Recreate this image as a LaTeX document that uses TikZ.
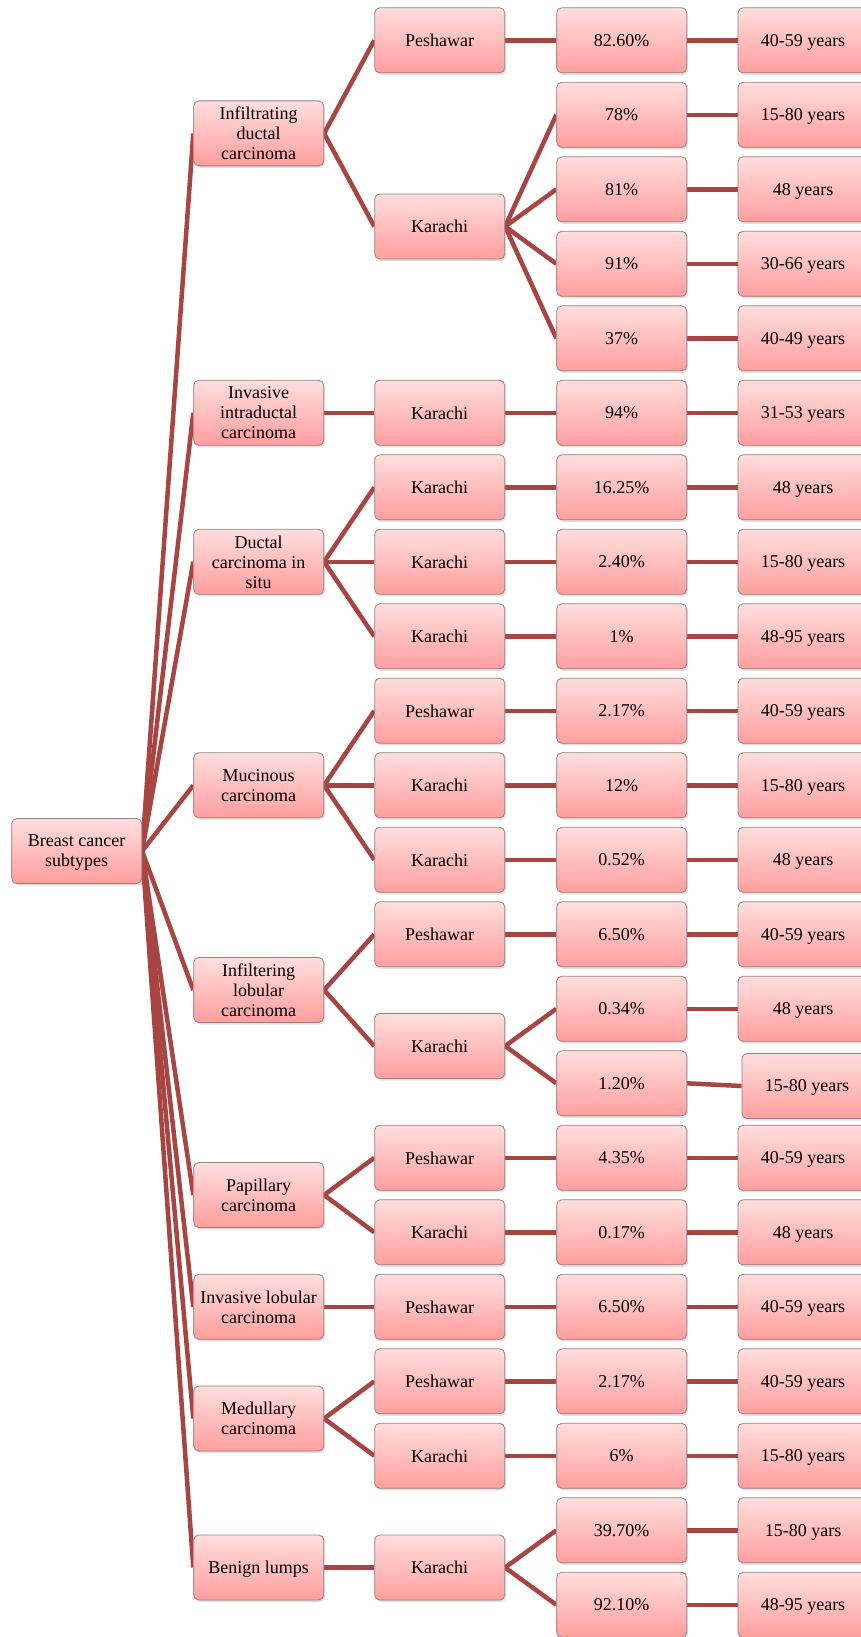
\documentclass[tikz,border=0pt]{standalone}
\usepackage{fontspec}
\setmainfont{Liberation Serif}
\usetikzlibrary{shadows}
\pgfdeclarelayer{background}
\pgfsetlayers{background,main}
\definecolor{linkred}{RGB}{168,68,66}
\definecolor{boxtop}{RGB}{255,222,222}
\definecolor{boxbot}{RGB}{255,158,158}
\definecolor{boxedge}{RGB}{150,128,128}
\tikzset{
  bx/.style={draw=boxedge, line width=0.8pt, rounded corners=5pt,
    top color=boxtop, bottom color=boxbot,
    minimum width=130pt, minimum height=65pt, inner sep=0pt, align=center,
    text depth=0pt,
    font=\fontsize{18}{20}\selectfont,
    drop shadow={opacity=0.25, shadow xshift=1.5pt, shadow yshift=-2pt}},
  lk/.style={draw=linkred, line width=4.5pt}
}
\begin{document}
\begin{tikzpicture}[x=1pt,y=-1pt]
\useasboundingbox (0,0) rectangle (861,1637);
% root
\node[bx] (root) at (76.7,851) {Breast cancer\\subtypes};
% level 1
\node[bx] (idc) at (258.7,133.4) {Infiltrating\\ductal\\carcinoma};
\node[bx] (iic) at (258.7,412.8) {Invasive\\intraductal\\carcinoma};
\node[bx] (dcis) at (258.7,561.8) {Ductal\\carcinoma in\\situ};
\node[bx] (muc) at (258.7,785.3) {Mucinous\\carcinoma};
\node[bx] (ilc) at (258.7,990) {Infiltering\\lobular\\carcinoma};
\node[bx] (pap) at (258.7,1195) {Papillary\\carcinoma};
\node[bx] (invl) at (258.7,1306.8) {Invasive lobular\\carcinoma};
\node[bx] (med) at (258.7,1418.5) {Medullary\\carcinoma};
\node[bx] (ben) at (258.7,1567.5) {Benign lumps};
% level 2 (locations)
\node[bx] (c0) at (439.7,40.3) {Peshawar};
\node[bx] (c1) at (439.7,226.5) {Karachi};
\node[bx] (c5) at (439.7,412.8) {Karachi};
\node[bx] (c6) at (439.7,487.3) {Karachi};
\node[bx] (c7) at (439.7,561.8) {Karachi};
\node[bx] (c8) at (439.7,636.3) {Karachi};
\node[bx] (c9) at (439.7,710.8) {Peshawar};
\node[bx] (c10) at (439.7,785.3) {Karachi};
\node[bx] (c11) at (439.7,859.8) {Karachi};
\node[bx] (c12) at (439.7,934.3) {Peshawar};
\node[bx] (c13) at (439.7,1046) {Karachi};
\node[bx] (c15) at (439.7,1157.8) {Peshawar};
\node[bx] (c16) at (439.7,1232.3) {Karachi};
\node[bx] (c17) at (439.7,1306.8) {Peshawar};
\node[bx] (c18) at (439.7,1381.3) {Peshawar};
\node[bx] (c19) at (439.7,1455.8) {Karachi};
\node[bx] (c20) at (439.7,1567.5) {Karachi};
% level 3 (percentages)
\node[bx] (p0) at (621.7,40.3) {82.60\%};
\node[bx] (p1) at (621.7,114.8) {78\%};
\node[bx] (p2) at (621.7,189.3) {81\%};
\node[bx] (p3) at (621.7,263.8) {91\%};
\node[bx] (p4) at (621.7,338.3) {37\%};
\node[bx] (p5) at (621.7,412.8) {94\%};
\node[bx] (p6) at (621.7,487.3) {16.25\%};
\node[bx] (p7) at (621.7,561.8) {2.40\%};
\node[bx] (p8) at (621.7,636.3) {1\%};
\node[bx] (p9) at (621.7,710.8) {2.17\%};
\node[bx] (p10) at (621.7,785.3) {12\%};
\node[bx] (p11) at (621.7,859.8) {0.52\%};
\node[bx] (p12) at (621.7,934.3) {6.50\%};
\node[bx] (p13) at (621.7,1008.8) {0.34\%};
\node[bx] (p14) at (621.7,1083.3) {1.20\%};
\node[bx] (p15) at (621.7,1157.8) {4.35\%};
\node[bx] (p16) at (621.7,1232.3) {0.17\%};
\node[bx] (p17) at (621.7,1306.8) {6.50\%};
\node[bx] (p18) at (621.7,1381.3) {2.17\%};
\node[bx] (p19) at (621.7,1455.8) {6\%};
\node[bx] (p20) at (621.7,1530.3) {39.70\%};
\node[bx] (p21) at (621.7,1604.8) {92.10\%};
% level 4 (ages)
\node[bx] (a0) at (803,40.3) {40-59 years};
\node[bx] (a1) at (803,114.8) {15-80 years};
\node[bx] (a2) at (803,189.3) {48 years};
\node[bx] (a3) at (803,263.8) {30-66 years};
\node[bx] (a4) at (803,338.3) {40-49 years};
\node[bx] (a5) at (803,412.8) {31-53 years};
\node[bx] (a6) at (803,487.3) {48 years};
\node[bx] (a7) at (803,561.8) {15-80 years};
\node[bx] (a8) at (803,636.3) {48-95 years};
\node[bx] (a9) at (803,710.8) {40-59 years};
\node[bx] (a10) at (803,785.3) {15-80 years};
\node[bx] (a11) at (803,859.8) {48 years};
\node[bx] (a12) at (803,934.3) {40-59 years};
\node[bx] (a13) at (803,1008.8) {48 years};
\node[bx] (a14) at (807,1086) {15-80 years};
\node[bx] (a15) at (803,1157.8) {40-59 years};
\node[bx] (a16) at (803,1232.3) {48 years};
\node[bx] (a17) at (803,1306.8) {40-59 years};
\node[bx] (a18) at (803,1381.3) {40-59 years};
\node[bx] (a19) at (803,1455.8) {15-80 years};
\node[bx] (a20) at (803,1530.3) {15-80 yars};
\node[bx] (a21) at (803,1604.8) {48-95 years};
% connectors (behind boxes)
\begin{pgfonlayer}{background}
\foreach \c in {idc,iic,dcis,muc,ilc,pap,invl,med,ben}
  \draw[lk] (root.east) -- (\c.west);
\foreach \p/\c in {idc/c0,idc/c1,iic/c5,dcis/c6,dcis/c7,dcis/c8,muc/c9,muc/c10,muc/c11,ilc/c12,ilc/c13,pap/c15,pap/c16,invl/c17,med/c18,med/c19,ben/c20}
  \draw[lk] (\p.east) -- (\c.west);
\foreach \p/\c in {c0/p0,c1/p1,c1/p2,c1/p3,c1/p4,c5/p5,c6/p6,c7/p7,c8/p8,c9/p9,c10/p10,c11/p11,c12/p12,c13/p13,c13/p14,c15/p15,c16/p16,c17/p17,c18/p18,c19/p19,c20/p20,c20/p21}
  \draw[lk] (\p.east) -- (\c.west);
\foreach \i in {0,...,21}
  \draw[lk] (p\i.east) -- (a\i.west);
\end{pgfonlayer}
\end{tikzpicture}
\end{document}
